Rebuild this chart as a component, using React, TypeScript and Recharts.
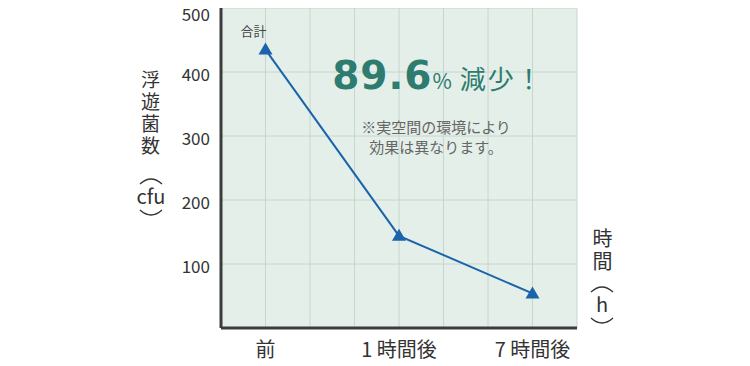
import React from 'react';
import { LineChart, Line, XAxis, YAxis, CartesianGrid } from 'recharts';

// columns on the grid (0..8), categories sit on 1, 4 and 7
const slots = [1, 4, 7];
const categories = ['前', '1 時間後', '7 時間後'];
const counts = [435, 144, 54];
const yTicks = [100, 200, 300, 400, 500];
const gridCols = [0, 1, 2, 3, 4, 5, 6, 7, 8];

const JP = '"Noto Sans CJK JP", "Noto Sans", sans-serif';
const TEAL = '#2e7b6f';
const BLUE = '#1a64ac';

const data = slots.map((s, i) => ({ slot: s, name: categories[i], count: counts[i] }));

const Triangle = (props: any) => {
  const { cx, cy, index } = props;
  if (cx == null || cy == null) return null;
  return (
    <g key={`tri-${index}`}>
      <path d={`M${cx},${cy - 7} L${cx + 7},${cy + 5} L${cx - 7},${cy + 5} Z`} fill={BLUE} />
      {index === 0 && (
        <text x={cx - 12} y={cy - 14} textAnchor="middle" fontSize={13} fill="#444" fontFamily={JP}>
          合計
        </text>
      )}
    </g>
  );
};

const XTick = (props: any) => {
  const { x, y, payload } = props;
  const i = slots.indexOf(payload.value);
  if (i < 0) return null;
  return (
    <text x={x} y={y + 21} textAnchor="middle" fontSize={20} fill="#333" fontFamily={JP}>
      {categories[i]}
    </text>
  );
};

const YTick = (props: any) => {
  const { x, y, payload } = props;
  // top label sits a little lower so it stays inside the picture
  const dy = payload.value === 500 ? 12 : 9;
  return (
    <text x={x} y={y + dy} textAnchor="end" fontSize={17} fill="#333" fontFamily={JP}>
      {payload.value}
    </text>
  );
};

const vertical: React.CSSProperties = {
  position: 'absolute',
  writingMode: 'vertical-rl',
  textOrientation: 'upright',
  color: '#333',
  lineHeight: 1,
};

// vertical-writing bracket around a unit label
const Bracketed = ({ left, top, text }: { left: number; top: number; text: string }) => (
  <div style={{ position: 'absolute', left, top, width: 40, height: 42 }}>
    <svg width={40} height={42} style={{ position: 'absolute', left: 0, top: 0 }}>
      <path d="M9,8 Q20,-2 31,8" fill="none" stroke="#333" strokeWidth={1.3} />
      <path d="M9,34 Q20,44 31,34" fill="none" stroke="#333" strokeWidth={1.3} />
    </svg>
    <div style={{ position: 'absolute', left: 0, top: 10, width: 40, textAlign: 'center', fontSize: 20, lineHeight: '20px', color: '#333' }}>
      {text}
    </div>
  </div>
);

const App: React.FC = () => {
  return (
    <div style={{ position: 'relative', width: 750, height: 366, margin: '-8px 0 0 -8px', fontFamily: JP, background: '#fff' }}>
      <LineChart width={750} height={366} data={data} margin={{ top: 8, right: 173, left: 0, bottom: 0 }}>
        <CartesianGrid stroke="#c6d6cd" fill="#e3efe8" horizontal vertical />
        <XAxis
          dataKey="slot"
          type="number"
          domain={[0, 8]}
          ticks={gridCols}
          interval={0}
          height={38}
          tickLine={false}
          tick={<XTick />}
          axisLine={{ stroke: '#3c3c3c', strokeWidth: 3 }}
        />
        <YAxis
          type="number"
          domain={[0, 500]}
          ticks={yTicks}
          width={221}
          tickLine={false}
          tickSize={0}
          tickMargin={11}
          tick={<YTick />}
          axisLine={{ stroke: '#3c3c3c', strokeWidth: 3 }}
        />
        <Line
          dataKey="count"
          stroke={BLUE}
          strokeWidth={2}
          dot={<Triangle />}
          activeDot={false}
          isAnimationActive={false}
        />
      </LineChart>

      {/* y axis title */}
      <div style={{ ...vertical, left: 141, top: 70, fontSize: 19, letterSpacing: 3 }}>浮遊菌数</div>
      <Bracketed left={131} top={176} text="cfu" />

      {/* x axis title */}
      <div style={{ ...vertical, left: 592, top: 228, fontSize: 20, letterSpacing: 3 }}>時間</div>
      <Bracketed left={582} top={284} text="h" />

      {/* annotation */}
      <div style={{ position: 'absolute', left: 298, top: 56, width: 280, textAlign: 'center', color: TEAL, whiteSpace: 'nowrap', lineHeight: 1 }}>
        <span style={{ fontFamily: '"DejaVu Sans", sans-serif', fontWeight: 700, fontSize: 39, letterSpacing: 1 }}>89.6</span>
        <span style={{ fontSize: 21 }}>%</span>
        <span style={{ fontSize: 26, marginLeft: 8, letterSpacing: 2 }}>減少！</span>
      </div>
      <div style={{ position: 'absolute', left: 336, top: 117, width: 200, textAlign: 'center', color: '#666', fontSize: 15, lineHeight: '20px' }}>
        ※実空間の環境により
        <br />
        効果は異なります。
      </div>
    </div>
  );
};

export default App;
